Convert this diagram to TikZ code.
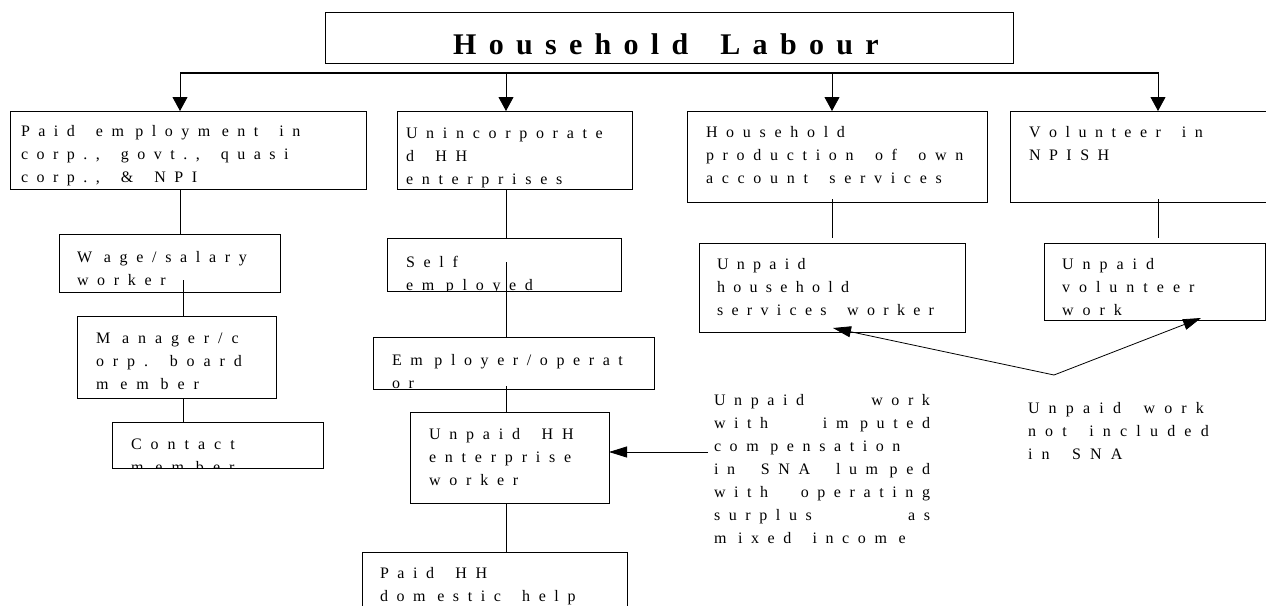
\documentclass[tikz,border=0pt]{standalone}
\usepackage{fontspec}
\setmainfont{Liberation Serif}
\usetikzlibrary{arrows.meta,calc}
\makeatletter
\newdimen\lsamt
\newdimen\wsamt
\newdimen\mkamt \mkamt=3pt
\newcommand\ws{\hskip\wsamt\relax}
\def\spaced#1{\spaced@i#1\@nil}
\def\spaced@i#1{\ifx#1\@nil\else\spaced@c{#1}\expandafter\spaced@i\fi}
\def\spaced@c#1{#1\kern\lsamt\ifx#1m\kern\mkamt\fi\ifx#1M\kern\mkamt\fi\ifx#1W\kern\mkamt\fi}
\makeatother
\newcommand\tl[1]{\hbox{\spaced{#1}}}
\newcommand\jf{\hskip\wsamt plus 1fill\relax}
\newcommand\bxfont[1]{\fontsize{16pt}{23pt}\selectfont\lsamt=#1pt\wsamt=.25em\relax}
\newcommand\mkbox[9]{%
  \node[bx, minimum width={#4-#2}, minimum height={#5-#3},
    path picture={\node[draw=none, anchor=base west, inner sep=0pt, outer sep=0pt, minimum width=0pt, minimum height=0pt]
      at ([xshift=#6pt, yshift=-#7pt]path picture bounding box.north west)
      {\bxfont{#8}\vtop{#9}};}] (#1) at (#2,#3) {};}
\begin{document}
\begin{tikzpicture}[x=1pt,y=-1pt,
  bx/.style={draw, line width=0.8pt, inner sep=0pt, outer sep=0pt, anchor=north west},
  ln/.style={line width=0.8pt},
  arr/.style={line width=0.8pt, -{Triangle[length=18pt,width=11pt]}},
  toparr/.style={line width=0.8pt, -{Triangle[length=14pt,width=15pt]}}]
\useasboundingbox (0,0) rectangle (1266,605);
% title
\node[bx, minimum width=688, minimum height=51] (top) at (325,12) {};
\node[anchor=base west, inner sep=0pt] (toptext) at (453,54)
  {\fontsize{30pt}{36pt}\selectfont\bfseries\lsamt=12.3pt\wsamt=7.5pt\spaced{Household\ws Labour}};
\coordinate (hl) at (180,73);
\coordinate (hr) at (1159,73);
\draw[line width=1.3pt] (hl) -- (hr);
% boxes
\mkbox{A}{10}{111}{366}{189}{11}{25}{8.5}{\tl{Paid\ws employment\ws in}\tl{corp.,\ws govt.,\ws quasi}\tl{corp.,\ws \&\ws NPI}}
\mkbox{B}{59}{234}{280}{292}{18}{28}{8.7}{\tl{Wage/salary}\tl{worker}}
\mkbox{M}{77}{316}{276}{398}{19}{27}{8.9}{\tl{Manager/c}\tl{orp.\ws board}\tl{member}}
\mkbox{K}{112}{422}{323}{468}{19}{27}{9.0}{\tl{Contact}\tl{member}}
\mkbox{C}{397}{111}{632}{189}{9}{27}{8.7}{\tl{Unincorporate}\tl{d\ws HH}\tl{enterprises}}
\mkbox{S}{387}{238}{621}{291}{19}{29}{8.7}{\tl{Self}\tl{employed}}
\mkbox{Em}{373}{337}{654}{389}{19}{28}{8.6}{\tl{Employer/operat}\tl{or}}
\mkbox{U}{410}{412}{609}{503}{19}{27}{8.8}{\tl{Unpaid\ws HH}\tl{enterprise}\tl{worker}}
\mkbox{P}{362}{552}{627}{640}{18}{26}{8.6}{\tl{Paid\ws HH}\tl{domestic\ws help}}
\mkbox{D}{687}{111}{987}{202}{19}{26}{8.7}{\tl{Household}\tl{production\ws of\ws own}\tl{account\ws services}}
\mkbox{E}{1010}{111}{1272}{202}{19}{26}{8.5}{\tl{Volunteer\ws in}\tl{NPISH}}
\mkbox{F}{699}{243}{965}{332}{18}{26}{8.3}{\tl{Unpaid}\tl{household}\tl{services\ws worker}}
\mkbox{G}{1044}{243}{1265}{320}{18}{26}{9.0}{\tl{Unpaid}\tl{volunteer}\tl{work}}
% top arrows
\foreach \n/\x/\t in {1/180/A, 2/506/C, 3/832/D, 4/1158/E}{%
  \coordinate (t\n) at (\x,73);
  \draw[toparr] (t\n) -- (t\n |- \t.north);}
% vertical connectors
\coordinate (cA) at (180,0);
\coordinate (cB) at (183,0);
\coordinate (cC) at (506,0);
\coordinate (cD) at (832,0);
\coordinate (cE) at (1158,0);
\draw[ln] (cA |- A.south) -- (cA |- B.north);
\draw[ln] ($(cB |- B.south)+(0,-12)$) -- (cB |- M.north);
\draw[ln] (cB |- M.south) -- (cB |- K.north);
\draw[ln] (cC |- C.south) -- (cC |- S.north);
\draw[ln] ($(cC |- S.south)+(0,-29)$) -- (cC |- Em.north);
\draw[ln] ($(cC |- Em.south)+(0,-3)$) -- (cC |- U.north);
\draw[ln] (cC |- U.south) -- (cC |- P.north);
\draw[ln] ($(cD |- D.south)+(0,-3)$) -- ($(cD |- F.north)+(0,-5)$);
\draw[ln] ($(cE |- E.south)+(0,-3)$) -- ($(cE |- G.north)+(0,-5)$);
% free labels
\node[anchor=base west, inner sep=0pt, outer sep=0pt] (L1) at (714,405)
  {\bxfont{8.6}\vtop{%
    \hbox to 224.6pt{\spaced{Unpaid}\jf\spaced{work}}%
    \hbox to 224.6pt{\spaced{with}\jf\spaced{imputed}}%
    \tl{compensation}%
    \hbox to 224.6pt{\spaced{in}\jf\spaced{SNA}\jf\spaced{lumped}}%
    \hbox to 224.6pt{\spaced{with}\jf\spaced{operating}}%
    \hbox to 224.6pt{\spaced{surplus}\jf\spaced{as}}%
    \tl{mixed\ws income}}};
\node[anchor=base west, inner sep=0pt, outer sep=0pt] (L2) at (1028,413)
  {\bxfont{9.2}\vtop{\tl{Unpaid\ws work}\tl{not\ws included}\tl{in\ws SNA}}};
% arrows from labels
\coordinate (m1) at (708,452);
\draw[arr] (m1) -- (m1 -| U.east);
\coordinate (vv) at (1054,375);
\coordinate (fa) at (833,328);
\coordinate (ga) at (1201,318);
\draw[arr] (vv) -- (fa);
\draw[arr] (vv) -- (ga);
\end{tikzpicture}
\end{document}
